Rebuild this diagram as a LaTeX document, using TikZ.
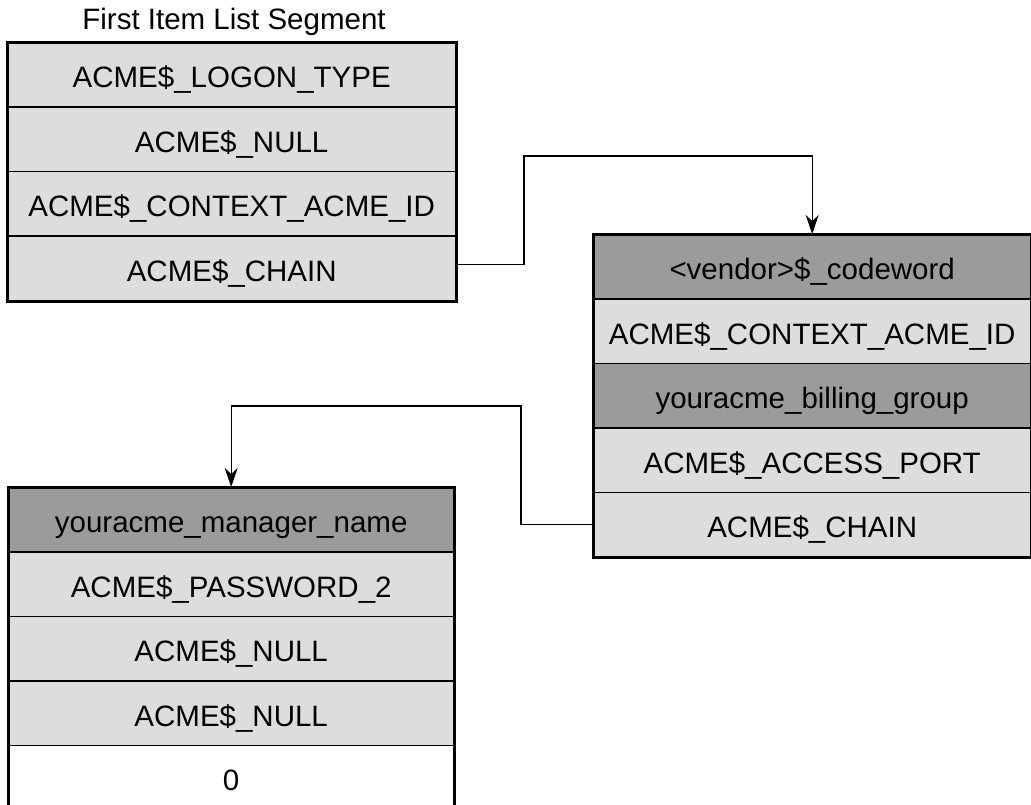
\documentclass[tikz,border=0pt]{standalone}
\usepackage{fontspec}
\setmainfont{Liberation Sans}
\usetikzlibrary{arrows.meta}
\definecolor{lightc}{HTML}{DDDDDD}
\definecolor{darkc}{HTML}{9B9B9B}
\tikzset{
  cellbox/.style={draw=black, line width=1.4pt, fill=lightc, inner sep=0pt,
    minimum height=64.4pt, anchor=north west, text height=26pt, text depth=0pt,
    font=\fontsize{29.5}{32}\selectfont},
  wa/.style={cellbox, minimum width=448pt},
  wb/.style={cellbox, minimum width=437pt},
  wc/.style={cellbox, minimum width=445pt},
  darkcell/.style={fill=darkc},
  whitecell/.style={fill=white},
  outerbox/.style={draw=black, line width=3pt},
  conn/.style={draw=black, line width=1.4pt, -{Stealth[length=19pt,width=13pt,inset=6pt]}},
  titletext/.style={font=\fontsize{29.5}{32}\selectfont, inner sep=0pt}
}
\begin{document}
\begin{tikzpicture}[x=1pt,y=-1pt]
\useasboundingbox (0,0) rectangle (1031,804);
\clip (0,0) rectangle (1031,804);
% title
\node[titletext] (title) at (234,22) {First Item List Segment};
% first box
\node[wa] (a1) at (7,42) {ACME\$\_LOGON\_TYPE};
\node[wa] (a2) at (7,106.5) {ACME\$\_NULL};
\node[wa] (a3) at (7,171) {ACME\$\_CONTEXT\_ACME\_ID};
\node[wa] (a4) at (7,235.5) {ACME\$\_CHAIN};
\draw[outerbox] (a1.north west) rectangle (a4.south east);
% second box
\node[wb,darkcell] (b1) at (593,234) {<vendor>\$\_codeword};
\node[wb] (b2) at (593,298.4) {ACME\$\_CONTEXT\_ACME\_ID};
\node[wb,darkcell] (b3) at (593,362.8) {youracme\_billing\_group};
\node[wb] (b4) at (593,427.2) {ACME\$\_ACCESS\_PORT};
\node[wb] (b5) at (593,491.6) {ACME\$\_CHAIN};
\draw[outerbox] (b1.north west) rectangle (b5.south east);
% third box
\node[wc,darkcell] (c1) at (8,487) {youracme\_manager\_name};
\node[wc] (c2) at (8,551.4) {ACME\$\_PASSWORD\_2};
\node[wc] (c3) at (8,615.8) {ACME\$\_NULL};
\node[wc] (c4) at (8,680.2) {ACME\$\_NULL};
\node[wc,whitecell] (c5) at (8,744.6) {0};
\draw[outerbox] (c1.north west) rectangle (c5.south east);
% connectors
\coordinate (k1) at (524,156);
\coordinate (k2) at (521,406);
\draw[conn] ([yshift=4pt]a4.east) -| (k1) -| (b1.north);
\draw[conn] (b5.west) -| (k2) -| (c1.north);
\end{tikzpicture}
\end{document}
